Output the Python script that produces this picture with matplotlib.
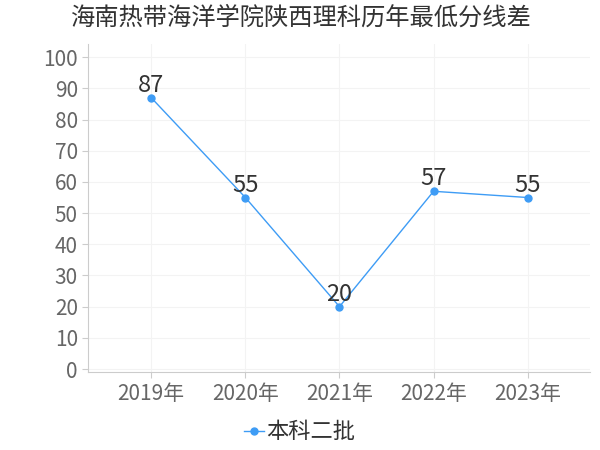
import matplotlib
matplotlib.use("Agg")
import matplotlib.pyplot as plt

plt.rcParams['font.family'] = ['Noto Sans CJK SC', 'DejaVu Sans']

years = ["2019年", "2020年", "2021年", "2022年", "2023年"]
scores = [87, 55, 20, 57, 55]
series_name = "本科二批"
title = "海南热带海洋学院陕西理科历年最低分线差"

fig = plt.figure(figsize=(6, 4.5), dpi=100)
ax = fig.add_axes([0.147, 0.173, 0.836, 0.729])

x = list(range(len(years)))
ax.plot(x, scores, color='#3e9cf5', lw=1, marker='o', ms=5, label=series_name)
for xi, v in zip(x, scores):
    ax.text(xi, v + 0.3, str(v), ha='center', va='bottom', fontsize=17, color='#333333')

ax.set_xlim(-0.67, 4.66)
ax.set_ylim(-1, 104.2)
ax.set_xticks(x)
ax.set_xticklabels(years)
ax.set_yticks(range(0, 101, 10))
ax.tick_params(axis='both', colors='#cccccc', labelcolor='#666666', labelsize=15, length=4)
ax.grid(True, color='#f3f3f3', lw=0.8)
ax.set_axisbelow(True)
for s in ['top', 'right']:
    ax.spines[s].set_visible(False)
for s in ['left', 'bottom']:
    ax.spines[s].set_color('#cccccc')

fig.suptitle(title, fontsize=17.5, color='#333333', y=0.99)
fig.legend(loc='lower center', bbox_to_anchor=(0.5, -0.03), frameon=False,
           fontsize=16, handlelength=0.9, handletextpad=0.1, labelcolor='#333333')

fig.savefig("out.png", dpi=100)
